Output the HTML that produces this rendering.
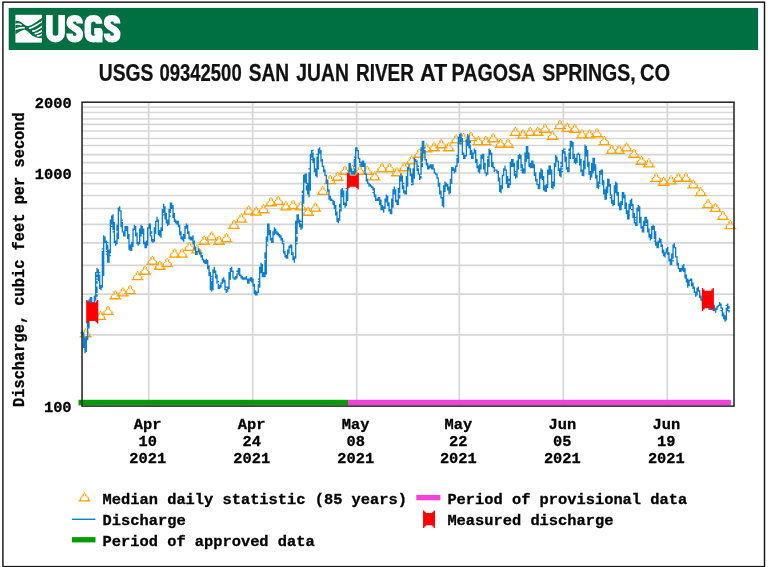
<!DOCTYPE html>
<html><head><meta charset="utf-8"><title>USGS 09342500 SAN JUAN RIVER AT PAGOSA SPRINGS, CO</title>
<style>html,body{margin:0;padding:0;background:#fff;}svg{display:block;}text{white-space:pre;}</style></head><body>
<svg width="768" height="567" viewBox="0 0 768 567">
<defs><filter id="soft" x="0" y="0" width="100%" height="100%" filterUnits="userSpaceOnUse" color-interpolation-filters="sRGB"><feGaussianBlur stdDeviation="0.45"/></filter></defs>
<g filter="url(#soft)">
<rect x="-5" y="-5" width="778" height="577" fill="#fff"/>
<rect x="2.9" y="2.15" width="761.6" height="564.45" fill="none" stroke="#151515" stroke-width="1.45"/>
<rect x="8.7" y="7.9" width="749.4" height="42.1" fill="#006f41"/>
<g id="logo">
<rect x="15.4" y="14.8" width="26.5" height="27.8" fill="#fff"/>
<clipPath id="ic"><rect x="15.4" y="14.8" width="26.5" height="27.8"/></clipPath>
<g clip-path="url(#ic)">
<path d="M 15.17,21.12 C 17.12,20.34 19.47,21.12 21.81,22.69 C 23.77,24.05 25.33,25.62 27.28,26.01 C 30.41,26.20 34.31,23.08 42.12,17.80 L 42.12,38.31 C 37.44,38.12 33.53,36.75 30.80,34.41 C 28.84,32.45 27.28,30.50 25.33,29.91 C 22.98,29.33 19.08,31.67 15.17,34.60 Z" fill="#006f41"/>
<path d="M 15.17,24.45 C 17.12,23.78 19.08,23.86 21.03,24.72" fill="none" stroke="#fff" stroke-width="1.6" stroke-linecap="round"/>
<path d="M 15.17,29.21 C 17.91,28.23 21.03,27.22 24.08,27.77" fill="none" stroke="#fff" stroke-width="1.6" stroke-linecap="round"/>
<path d="M 29.43,28.23 C 32.75,27.96 36.66,24.64 42.12,21.63" fill="none" stroke="#fff" stroke-width="1.6" stroke-linecap="round"/>
<path d="M 32.75,31.12 C 35.88,31.12 39.00,28.55 42.12,26.32" fill="none" stroke="#fff" stroke-width="1.6" stroke-linecap="round"/>
<path d="M 35.29,33.62 C 37.44,33.82 39.78,32.06 42.12,30.62" fill="none" stroke="#fff" stroke-width="1.6" stroke-linecap="round"/>
<path d="M 37.44,35.81 C 39.00,36.16 40.56,35.38 42.12,34.33" fill="none" stroke="#fff" stroke-width="1.6" stroke-linecap="round"/>
</g>
</g>
<g fill="none" stroke="#fff" stroke-width="6.6" stroke-linecap="butt" stroke-linejoin="round">
<path d="M49.4,14.9 V33.3 a6.1,5.8 0 0 0 12.2,0 V14.9"/>
<path d="M79.7,23.6 C79.7,19.6 77.8,18.2 74.7,18.2 C71.4,18.2 69.7,19.8 69.7,22.6 C69.7,25.8 72,26.9 74.7,28.2 C77.9,29.7 79.8,31 79.8,34.2 C79.8,37.6 77.9,39.1 74.7,39.1 C71.2,39.1 69.6,37.4 69.6,33.4"/>
<path d="M99.1,23.8 C99.1,19.8 96.9,18.2 93.6,18.2 C89.8,18.2 87.8,20.3 87.8,24.8 V32.5 C87.8,37 89.8,39.1 93.4,39.1 C96.8,39.1 99.2,37.6 99.2,34 V31.2 H94.2"/>
<path d="M99.2,31 V42.4"/>
<path d="M117.1,23.6 C117.1,19.6 115.2,18.2 112.1,18.2 C108.8,18.2 107.1,19.8 107.1,22.6 C107.1,25.8 109.4,26.9 112.1,28.2 C115.3,29.7 117.2,31 117.2,34.2 C117.2,37.6 115.3,39.1 112.1,39.1 C108.6,39.1 107,37.4 107,33.4"/>
</g>
<text transform="translate(98.74,80.5) scale(0.8372,1)" style='font-family:"Liberation Sans",sans-serif;font-weight:bold;font-size:23.0px' fill="#111" stroke="#111" stroke-width="0.25">USGS</text>
<text transform="translate(159.55,80.5) scale(0.8025,1)" style='font-family:"Liberation Sans",sans-serif;font-weight:bold;font-size:23.0px' fill="#111" stroke="#111" stroke-width="0.25">09342500</text>
<text transform="translate(248.72,80.5) scale(0.8314,1)" style='font-family:"Liberation Sans",sans-serif;font-weight:bold;font-size:23.0px' fill="#111" stroke="#111" stroke-width="0.25">SAN</text>
<text transform="translate(296.31,80.5) scale(0.8399,1)" style='font-family:"Liberation Sans",sans-serif;font-weight:bold;font-size:23.0px' fill="#111" stroke="#111" stroke-width="0.25">JUAN</text>
<text transform="translate(355.96,80.5) scale(0.8261,1)" style='font-family:"Liberation Sans",sans-serif;font-weight:bold;font-size:23.0px' fill="#111" stroke="#111" stroke-width="0.25">RIVER</text>
<text transform="translate(419.97,80.5) scale(0.9377,1)" style='font-family:"Liberation Sans",sans-serif;font-weight:bold;font-size:23.0px' fill="#111" stroke="#111" stroke-width="0.25">AT</text>
<text transform="translate(451.62,80.5) scale(0.8545,1)" style='font-family:"Liberation Sans",sans-serif;font-weight:bold;font-size:23.0px' fill="#111" stroke="#111" stroke-width="0.25">PAGOSA</text>
<text transform="translate(542.31,80.5) scale(0.8500,1)" style='font-family:"Liberation Sans",sans-serif;font-weight:bold;font-size:23.0px' fill="#111" stroke="#111" stroke-width="0.25">SPRINGS,</text>
<text transform="translate(640.00,80.5) scale(0.8744,1)" style='font-family:"Liberation Sans",sans-serif;font-weight:bold;font-size:23.0px' fill="#111" stroke="#111" stroke-width="0.25">CO</text>
<g id="grid" stroke-width="1.7" fill="none" stroke="#d6d6d6">
<line x1="82.0" x2="734.0" y1="107.20" y2="107.20"/>
<line x1="82.0" x2="734.0" y1="112.50" y2="112.50"/>
<line x1="82.0" x2="734.0" y1="119.00" y2="119.00"/>
<line x1="82.0" x2="734.0" y1="124.40" y2="124.40"/>
<line x1="82.0" x2="734.0" y1="131.00" y2="131.00"/>
<line x1="82.0" x2="734.0" y1="138.50" y2="138.50"/>
<line x1="82.0" x2="734.0" y1="145.50" y2="145.50"/>
<line x1="82.0" x2="734.0" y1="154.60" y2="154.60"/>
<line x1="82.0" x2="734.0" y1="162.70" y2="162.70"/>
<line x1="82.0" x2="734.0" y1="173.00" y2="173.00"/>
<line x1="82.0" x2="734.0" y1="183.70" y2="183.70"/>
<line x1="82.0" x2="734.0" y1="195.50" y2="195.50"/>
<line x1="82.0" x2="734.0" y1="208.50" y2="208.50"/>
<line x1="82.0" x2="734.0" y1="224.30" y2="224.30"/>
<line x1="82.0" x2="734.0" y1="242.80" y2="242.80"/>
<line x1="82.0" x2="734.0" y1="265.30" y2="265.30"/>
<line x1="82.0" x2="734.0" y1="294.20" y2="294.20"/>
<line x1="82.0" x2="734.0" y1="334.80" y2="334.80"/>
<line x1="148.67" x2="148.67" y1="102.0" y2="406.0"/>
<line x1="252.67" x2="252.67" y1="102.0" y2="406.0"/>
<line x1="356.67" x2="356.67" y1="102.0" y2="406.0"/>
<line x1="459.33" x2="459.33" y1="102.0" y2="406.0"/>
<line x1="563.33" x2="563.33" y1="102.0" y2="406.0"/>
<line x1="667.33" x2="667.33" y1="102.0" y2="406.0"/>
</g>
<defs><path id="t" d="M-0.667,-9.188h1.333v1.312h-1.333zM-2.000,-7.875h1.333v1.312h-1.333zM0.667,-7.875h1.333v1.312h-1.333zM-2.000,-6.562h1.333v1.312h-1.333zM0.667,-6.562h1.333v1.312h-1.333zM-3.333,-5.250h1.333v1.312h-1.333zM2.000,-5.250h1.333v1.312h-1.333zM-4.667,-3.938h1.333v1.312h-1.333zM3.333,-3.938h1.333v1.312h-1.333zM-4.667,-2.625h1.333v1.312h-1.333zM3.333,-2.625h1.333v1.312h-1.333zM-6.000,-1.312h12.000v1.312h-12.000z" fill="#ffa200"/></defs>
<g id="tri">
<use href="#t" x="85.70" y="337.40"/>
<use href="#t" x="93.11" y="320.30"/>
<use href="#t" x="100.52" y="320.10"/>
<use href="#t" x="107.93" y="315.10"/>
<use href="#t" x="115.34" y="299.40"/>
<use href="#t" x="122.75" y="296.60"/>
<use href="#t" x="130.16" y="294.20"/>
<use href="#t" x="137.57" y="280.30"/>
<use href="#t" x="144.98" y="274.90"/>
<use href="#t" x="152.39" y="264.90"/>
<use href="#t" x="159.80" y="269.90"/>
<use href="#t" x="167.20" y="267.20"/>
<use href="#t" x="174.61" y="257.70"/>
<use href="#t" x="182.02" y="257.70"/>
<use href="#t" x="189.43" y="251.10"/>
<use href="#t" x="196.84" y="253.60"/>
<use href="#t" x="204.25" y="244.90"/>
<use href="#t" x="211.66" y="240.60"/>
<use href="#t" x="219.07" y="244.90"/>
<use href="#t" x="226.48" y="242.20"/>
<use href="#t" x="233.89" y="229.10"/>
<use href="#t" x="241.30" y="222.70"/>
<use href="#t" x="248.70" y="214.70"/>
<use href="#t" x="256.11" y="215.80"/>
<use href="#t" x="263.52" y="213.40"/>
<use href="#t" x="270.93" y="206.40"/>
<use href="#t" x="278.34" y="205.10"/>
<use href="#t" x="285.75" y="210.60"/>
<use href="#t" x="293.16" y="209.20"/>
<use href="#t" x="300.57" y="210.60"/>
<use href="#t" x="307.98" y="215.90"/>
<use href="#t" x="315.39" y="211.70"/>
<use href="#t" x="322.80" y="195.10"/>
<use href="#t" x="330.20" y="184.20"/>
<use href="#t" x="337.61" y="180.90"/>
<use href="#t" x="345.02" y="174.90"/>
<use href="#t" x="352.43" y="173.90"/>
<use href="#t" x="359.84" y="175.10"/>
<use href="#t" x="367.25" y="175.10"/>
<use href="#t" x="374.66" y="180.60"/>
<use href="#t" x="382.07" y="172.20"/>
<use href="#t" x="389.48" y="172.20"/>
<use href="#t" x="396.89" y="176.40"/>
<use href="#t" x="404.30" y="171.40"/>
<use href="#t" x="411.70" y="164.60"/>
<use href="#t" x="419.11" y="157.90"/>
<use href="#t" x="426.52" y="152.60"/>
<use href="#t" x="433.93" y="151.40"/>
<use href="#t" x="441.34" y="148.40"/>
<use href="#t" x="448.75" y="151.40"/>
<use href="#t" x="456.16" y="143.60"/>
<use href="#t" x="463.57" y="142.10"/>
<use href="#t" x="470.98" y="141.20"/>
<use href="#t" x="478.39" y="145.20"/>
<use href="#t" x="485.80" y="145.20"/>
<use href="#t" x="493.20" y="142.40"/>
<use href="#t" x="500.61" y="147.90"/>
<use href="#t" x="508.02" y="147.90"/>
<use href="#t" x="515.43" y="136.10"/>
<use href="#t" x="522.84" y="138.70"/>
<use href="#t" x="530.25" y="136.10"/>
<use href="#t" x="537.66" y="135.90"/>
<use href="#t" x="545.07" y="132.90"/>
<use href="#t" x="552.48" y="139.90"/>
<use href="#t" x="559.89" y="129.20"/>
<use href="#t" x="567.30" y="132.00"/>
<use href="#t" x="574.70" y="133.10"/>
<use href="#t" x="582.11" y="138.60"/>
<use href="#t" x="589.52" y="138.60"/>
<use href="#t" x="596.93" y="137.40"/>
<use href="#t" x="604.34" y="145.20"/>
<use href="#t" x="611.75" y="154.10"/>
<use href="#t" x="619.16" y="154.10"/>
<use href="#t" x="626.57" y="151.60"/>
<use href="#t" x="633.98" y="157.90"/>
<use href="#t" x="641.39" y="164.90"/>
<use href="#t" x="648.80" y="167.50"/>
<use href="#t" x="656.20" y="182.00"/>
<use href="#t" x="663.61" y="185.90"/>
<use href="#t" x="671.02" y="184.50"/>
<use href="#t" x="678.43" y="181.90"/>
<use href="#t" x="685.84" y="181.90"/>
<use href="#t" x="693.25" y="188.60"/>
<use href="#t" x="700.66" y="196.30"/>
<use href="#t" x="708.07" y="208.30"/>
<use href="#t" x="715.48" y="212.10"/>
<use href="#t" x="722.89" y="220.10"/>
<use href="#t" x="730.30" y="229.20"/>
</g>
<rect x="78.5" y="399.8" width="269.50" height="5.6" fill="#009c00"/>
<rect x="348.0" y="399.8" width="382.90" height="5.6" fill="#f340dc"/>
<path d="M80.35,332.31h1.333v1.31h-1.333zM81.68,331.00h1.333v3.94h-1.333zM83.02,332.31h1.333v15.75h-1.333zM84.35,337.56h1.333v15.75h-1.333zM85.68,336.25h1.333v15.75h-1.333zM87.02,315.25h1.333v24.94h-1.333zM88.35,299.50h1.333v28.88h-1.333zM89.68,296.88h1.333v7.88h-1.333zM91.02,296.88h1.333v7.88h-1.333zM92.35,302.12h1.333v3.94h-1.333zM93.68,295.56h1.333v9.19h-1.333zM95.02,271.94h1.333v28.88h-1.333zM96.35,268.00h1.333v5.25h-1.333zM96.35,274.56h1.333v2.62h-1.333zM96.35,278.50h1.333v1.31h-1.333zM96.35,281.12h1.333v2.62h-1.333zM96.35,286.38h1.333v6.56h-1.333zM96.35,294.25h1.333v2.62h-1.333zM97.68,269.31h1.333v11.81h-1.333zM99.02,271.94h1.333v1.31h-1.333zM99.02,274.56h1.333v14.44h-1.333zM100.35,285.06h1.333v5.25h-1.333zM101.68,248.31h1.333v1.31h-1.333zM101.68,250.94h1.333v36.75h-1.333zM103.02,235.19h1.333v40.69h-1.333zM104.35,236.50h1.333v6.56h-1.333zM105.68,240.44h1.333v9.19h-1.333zM105.68,250.94h1.333v1.31h-1.333zM105.68,253.56h1.333v1.31h-1.333zM107.02,241.75h1.333v1.31h-1.333zM107.02,244.38h1.333v18.38h-1.333zM108.35,249.62h1.333v13.12h-1.333zM109.68,219.44h1.333v34.12h-1.333zM109.68,254.88h1.333v1.31h-1.333zM111.02,215.50h1.333v9.19h-1.333zM111.02,226.00h1.333v1.31h-1.333zM112.35,214.19h1.333v15.75h-1.333zM112.35,231.25h1.333v1.31h-1.333zM113.68,222.06h1.333v21.00h-1.333zM115.02,240.44h1.333v5.25h-1.333zM116.35,224.69h1.333v6.56h-1.333zM116.35,232.56h1.333v11.81h-1.333zM117.68,207.62h1.333v31.50h-1.333zM119.02,206.31h1.333v5.25h-1.333zM120.35,210.25h1.333v17.06h-1.333zM121.68,219.44h1.333v1.31h-1.333zM121.68,222.06h1.333v10.50h-1.333zM123.02,231.25h1.333v5.25h-1.333zM124.35,226.00h1.333v10.50h-1.333zM125.68,226.00h1.333v5.25h-1.333zM127.02,226.00h1.333v13.12h-1.333zM128.35,233.88h1.333v15.75h-1.333zM129.68,244.38h1.333v6.56h-1.333zM131.02,241.75h1.333v9.19h-1.333zM132.35,228.62h1.333v18.38h-1.333zM133.68,224.69h1.333v5.25h-1.333zM135.02,226.00h1.333v10.50h-1.333zM136.35,232.56h1.333v11.81h-1.333zM137.68,241.75h1.333v3.94h-1.333zM139.02,228.62h1.333v15.75h-1.333zM140.35,224.69h1.333v11.81h-1.333zM141.68,226.00h1.333v7.88h-1.333zM143.02,228.62h1.333v15.75h-1.333zM144.35,241.75h1.333v6.56h-1.333zM145.68,240.44h1.333v7.88h-1.333zM147.02,227.31h1.333v18.38h-1.333zM148.35,223.38h1.333v5.25h-1.333zM149.68,223.38h1.333v13.12h-1.333zM151.02,231.25h1.333v2.62h-1.333zM151.02,235.19h1.333v6.56h-1.333zM152.35,239.12h1.333v3.94h-1.333zM153.68,227.31h1.333v14.44h-1.333zM155.02,220.75h1.333v13.12h-1.333zM156.35,216.81h1.333v5.25h-1.333zM157.68,219.44h1.333v15.75h-1.333zM159.02,229.94h1.333v6.56h-1.333zM160.35,227.31h1.333v10.50h-1.333zM161.68,208.94h1.333v22.31h-1.333zM163.02,203.69h1.333v9.19h-1.333zM163.02,214.19h1.333v1.31h-1.333zM164.35,206.31h1.333v13.12h-1.333zM165.68,212.88h1.333v10.50h-1.333zM167.02,219.44h1.333v6.56h-1.333zM168.35,208.94h1.333v15.75h-1.333zM169.68,202.38h1.333v10.50h-1.333zM169.68,215.50h1.333v1.31h-1.333zM171.02,202.38h1.333v6.56h-1.333zM172.35,205.00h1.333v13.12h-1.333zM173.68,212.88h1.333v9.19h-1.333zM175.02,219.44h1.333v3.94h-1.333zM176.35,220.75h1.333v3.94h-1.333zM177.68,220.75h1.333v6.56h-1.333zM179.02,224.69h1.333v10.50h-1.333zM180.35,231.25h1.333v7.88h-1.333zM181.68,236.50h1.333v3.94h-1.333zM183.02,233.88h1.333v7.88h-1.333zM184.35,226.00h1.333v13.12h-1.333zM185.68,223.38h1.333v5.25h-1.333zM187.02,224.69h1.333v9.19h-1.333zM188.35,231.25h1.333v7.88h-1.333zM189.68,236.50h1.333v3.94h-1.333zM191.02,236.50h1.333v3.94h-1.333zM192.35,235.19h1.333v9.19h-1.333zM193.68,240.44h1.333v9.19h-1.333zM195.02,247.00h1.333v7.88h-1.333zM196.35,250.94h1.333v3.94h-1.333zM197.68,248.31h1.333v3.94h-1.333zM199.02,249.62h1.333v5.25h-1.333zM200.35,252.25h1.333v5.25h-1.333zM201.68,254.88h1.333v5.25h-1.333zM203.02,258.81h1.333v3.94h-1.333zM204.35,260.12h1.333v3.94h-1.333zM205.68,258.81h1.333v5.25h-1.333zM207.02,260.12h1.333v9.19h-1.333zM208.35,265.38h1.333v10.50h-1.333zM209.68,271.94h1.333v18.38h-1.333zM211.02,275.88h1.333v1.31h-1.333zM211.02,278.50h1.333v1.31h-1.333zM211.02,281.12h1.333v10.50h-1.333zM212.35,269.31h1.333v21.00h-1.333zM213.68,266.69h1.333v6.56h-1.333zM215.02,270.62h1.333v7.88h-1.333zM216.35,274.56h1.333v9.19h-1.333zM217.68,281.12h1.333v1.31h-1.333zM217.68,283.75h1.333v5.25h-1.333zM219.02,285.06h1.333v3.94h-1.333zM220.35,282.44h1.333v5.25h-1.333zM221.68,278.50h1.333v5.25h-1.333zM223.02,277.19h1.333v5.25h-1.333zM224.35,279.81h1.333v10.50h-1.333zM225.68,286.38h1.333v1.31h-1.333zM225.68,289.00h1.333v3.94h-1.333zM227.02,286.38h1.333v5.25h-1.333zM228.35,271.94h1.333v17.06h-1.333zM229.68,268.00h1.333v11.81h-1.333zM231.02,266.69h1.333v5.25h-1.333zM232.35,270.62h1.333v7.88h-1.333zM233.68,277.19h1.333v2.62h-1.333zM235.02,275.88h1.333v3.94h-1.333zM236.35,270.62h1.333v1.31h-1.333zM236.35,273.25h1.333v5.25h-1.333zM237.68,268.00h1.333v6.56h-1.333zM239.02,268.00h1.333v7.88h-1.333zM240.35,274.56h1.333v3.94h-1.333zM241.68,275.88h1.333v3.94h-1.333zM243.02,277.19h1.333v2.62h-1.333zM244.35,277.19h1.333v2.62h-1.333zM245.68,275.88h1.333v3.94h-1.333zM247.02,278.50h1.333v5.25h-1.333zM248.35,278.50h1.333v5.25h-1.333zM249.68,277.19h1.333v3.94h-1.333zM251.02,277.19h1.333v5.25h-1.333zM252.35,278.50h1.333v7.88h-1.333zM253.68,283.75h1.333v10.50h-1.333zM255.02,290.31h1.333v5.25h-1.333zM256.35,291.62h1.333v3.94h-1.333zM257.68,278.50h1.333v1.31h-1.333zM257.68,281.12h1.333v1.31h-1.333zM257.68,283.75h1.333v9.19h-1.333zM259.02,266.69h1.333v21.00h-1.333zM260.35,262.75h1.333v10.50h-1.333zM261.68,264.06h1.333v13.12h-1.333zM263.02,271.94h1.333v5.25h-1.333zM264.35,252.25h1.333v6.56h-1.333zM264.35,260.12h1.333v17.06h-1.333zM265.68,236.50h1.333v38.06h-1.333zM267.02,223.38h1.333v18.38h-1.333zM267.02,244.38h1.333v1.31h-1.333zM268.35,223.38h1.333v11.81h-1.333zM269.68,229.94h1.333v10.50h-1.333zM271.02,237.81h1.333v5.25h-1.333zM272.35,231.25h1.333v11.81h-1.333zM273.68,227.31h1.333v7.88h-1.333zM275.02,228.62h1.333v5.25h-1.333zM276.35,231.25h1.333v3.94h-1.333zM277.68,232.56h1.333v3.94h-1.333zM279.02,233.88h1.333v3.94h-1.333zM280.35,235.19h1.333v5.25h-1.333zM281.68,237.81h1.333v6.56h-1.333zM283.02,240.44h1.333v1.31h-1.333zM283.02,243.06h1.333v10.50h-1.333zM284.35,250.94h1.333v6.56h-1.333zM285.68,254.88h1.333v3.94h-1.333zM287.02,249.62h1.333v9.19h-1.333zM288.35,245.69h1.333v7.88h-1.333zM289.68,244.38h1.333v3.94h-1.333zM291.02,244.38h1.333v10.50h-1.333zM292.35,252.25h1.333v7.88h-1.333zM293.68,256.19h1.333v6.56h-1.333zM295.02,220.75h1.333v38.06h-1.333zM296.35,214.19h1.333v19.69h-1.333zM296.35,236.50h1.333v5.25h-1.333zM296.35,243.06h1.333v1.31h-1.333zM297.68,214.19h1.333v9.19h-1.333zM299.02,219.44h1.333v7.88h-1.333zM300.35,220.75h1.333v1.31h-1.333zM300.35,223.38h1.333v6.56h-1.333zM301.68,190.56h1.333v2.62h-1.333zM301.68,194.50h1.333v34.12h-1.333zM303.02,174.81h1.333v28.88h-1.333zM304.35,173.50h1.333v9.19h-1.333zM305.68,173.50h1.333v10.50h-1.333zM305.68,185.31h1.333v5.25h-1.333zM307.02,182.69h1.333v11.81h-1.333zM308.35,168.25h1.333v1.31h-1.333zM308.35,172.19h1.333v24.94h-1.333zM309.68,153.81h1.333v36.75h-1.333zM311.02,149.88h1.333v7.88h-1.333zM311.02,159.06h1.333v1.31h-1.333zM312.35,149.88h1.333v1.31h-1.333zM312.35,152.50h1.333v10.50h-1.333zM313.68,157.75h1.333v14.44h-1.333zM315.02,168.25h1.333v7.88h-1.333zM316.35,153.81h1.333v1.31h-1.333zM316.35,156.44h1.333v21.00h-1.333zM317.68,148.56h1.333v21.00h-1.333zM319.02,147.25h1.333v6.56h-1.333zM320.35,149.88h1.333v11.81h-1.333zM321.68,159.06h1.333v7.88h-1.333zM323.02,165.62h1.333v6.56h-1.333zM324.35,169.56h1.333v6.56h-1.333zM325.68,174.81h1.333v9.19h-1.333zM327.02,180.06h1.333v11.81h-1.333zM328.35,189.25h1.333v10.50h-1.333zM329.68,195.81h1.333v5.25h-1.333zM331.02,198.44h1.333v2.62h-1.333zM332.35,199.75h1.333v5.25h-1.333zM333.68,201.06h1.333v7.88h-1.333zM335.02,205.00h1.333v10.50h-1.333zM336.35,211.56h1.333v10.50h-1.333zM337.68,218.12h1.333v5.25h-1.333zM339.02,203.69h1.333v3.94h-1.333zM339.02,208.94h1.333v11.81h-1.333zM340.35,189.25h1.333v22.31h-1.333zM341.68,187.94h1.333v9.19h-1.333zM343.02,190.56h1.333v14.44h-1.333zM344.35,202.38h1.333v5.25h-1.333zM345.68,187.94h1.333v1.31h-1.333zM345.68,190.56h1.333v15.75h-1.333zM347.02,173.50h1.333v27.56h-1.333zM348.35,163.00h1.333v17.06h-1.333zM349.68,163.00h1.333v9.19h-1.333zM351.02,168.25h1.333v6.56h-1.333zM352.35,170.88h1.333v3.94h-1.333zM353.68,156.44h1.333v1.31h-1.333zM353.68,159.06h1.333v7.88h-1.333zM353.68,168.25h1.333v6.56h-1.333zM355.02,147.25h1.333v26.25h-1.333zM356.35,147.25h1.333v3.94h-1.333zM357.68,149.88h1.333v9.19h-1.333zM359.02,157.75h1.333v5.25h-1.333zM359.02,164.31h1.333v1.31h-1.333zM360.35,161.69h1.333v5.25h-1.333zM361.68,160.38h1.333v6.56h-1.333zM363.02,160.38h1.333v6.56h-1.333zM364.35,163.00h1.333v11.81h-1.333zM365.68,173.50h1.333v7.88h-1.333zM367.02,178.75h1.333v5.25h-1.333zM368.35,182.69h1.333v3.94h-1.333zM369.68,184.00h1.333v2.62h-1.333zM371.02,185.31h1.333v2.62h-1.333zM372.35,186.62h1.333v3.94h-1.333zM372.35,191.88h1.333v1.31h-1.333zM373.68,187.94h1.333v9.19h-1.333zM375.02,194.50h1.333v6.56h-1.333zM376.35,198.44h1.333v2.62h-1.333zM377.68,197.12h1.333v3.94h-1.333zM379.02,197.12h1.333v7.88h-1.333zM380.35,199.75h1.333v10.50h-1.333zM381.68,205.00h1.333v5.25h-1.333zM383.02,206.31h1.333v6.56h-1.333zM384.35,198.44h1.333v10.50h-1.333zM385.68,194.50h1.333v7.88h-1.333zM387.02,195.81h1.333v10.50h-1.333zM388.35,202.38h1.333v9.19h-1.333zM389.68,208.94h1.333v5.25h-1.333zM391.02,198.44h1.333v15.75h-1.333zM392.35,189.25h1.333v18.38h-1.333zM393.68,186.62h1.333v7.88h-1.333zM395.02,189.25h1.333v13.12h-1.333zM396.35,199.75h1.333v5.25h-1.333zM397.68,187.94h1.333v17.06h-1.333zM399.02,176.12h1.333v17.06h-1.333zM399.02,194.50h1.333v3.94h-1.333zM400.35,173.50h1.333v7.88h-1.333zM401.68,176.12h1.333v13.12h-1.333zM403.02,182.69h1.333v1.31h-1.333zM403.02,185.31h1.333v7.88h-1.333zM404.35,190.56h1.333v3.94h-1.333zM405.68,176.12h1.333v18.38h-1.333zM407.02,166.94h1.333v19.69h-1.333zM408.35,164.31h1.333v5.25h-1.333zM409.68,168.25h1.333v7.88h-1.333zM411.02,173.50h1.333v9.19h-1.333zM411.02,184.00h1.333v1.31h-1.333zM412.35,168.25h1.333v17.06h-1.333zM413.68,157.75h1.333v21.00h-1.333zM415.02,159.06h1.333v2.62h-1.333zM416.35,160.38h1.333v10.50h-1.333zM417.68,165.62h1.333v1.31h-1.333zM417.68,168.25h1.333v6.56h-1.333zM419.02,173.50h1.333v6.56h-1.333zM420.35,147.25h1.333v3.94h-1.333zM420.35,152.50h1.333v22.31h-1.333zM420.35,176.12h1.333v2.62h-1.333zM421.68,140.69h1.333v21.00h-1.333zM421.68,163.00h1.333v3.94h-1.333zM423.02,140.69h1.333v13.12h-1.333zM424.35,147.25h1.333v1.31h-1.333zM424.35,149.88h1.333v10.50h-1.333zM425.68,159.06h1.333v6.56h-1.333zM427.02,163.00h1.333v6.56h-1.333zM428.35,165.62h1.333v3.94h-1.333zM429.68,164.31h1.333v3.94h-1.333zM431.02,164.31h1.333v5.25h-1.333zM432.35,164.31h1.333v5.25h-1.333zM433.68,168.25h1.333v5.25h-1.333zM435.02,172.19h1.333v2.62h-1.333zM436.35,173.50h1.333v5.25h-1.333zM437.68,177.44h1.333v9.19h-1.333zM439.02,182.69h1.333v11.81h-1.333zM440.35,190.56h1.333v7.88h-1.333zM441.68,197.12h1.333v9.19h-1.333zM443.02,185.31h1.333v22.31h-1.333zM444.35,181.38h1.333v10.50h-1.333zM445.68,182.69h1.333v3.94h-1.333zM447.02,184.00h1.333v6.56h-1.333zM448.35,186.62h1.333v7.88h-1.333zM449.68,178.75h1.333v14.44h-1.333zM451.02,166.94h1.333v17.06h-1.333zM452.35,166.94h1.333v3.94h-1.333zM453.68,168.25h1.333v5.25h-1.333zM455.02,165.62h1.333v6.56h-1.333zM456.35,155.12h1.333v1.31h-1.333zM456.35,157.75h1.333v9.19h-1.333zM457.68,136.75h1.333v26.25h-1.333zM459.02,134.12h1.333v10.50h-1.333zM460.35,132.81h1.333v9.19h-1.333zM460.35,143.31h1.333v1.31h-1.333zM461.68,138.06h1.333v17.06h-1.333zM463.02,152.50h1.333v6.56h-1.333zM464.35,155.12h1.333v3.94h-1.333zM465.68,139.38h1.333v17.06h-1.333zM467.02,134.12h1.333v11.81h-1.333zM468.35,135.44h1.333v13.12h-1.333zM469.68,140.69h1.333v2.62h-1.333zM469.68,144.62h1.333v10.50h-1.333zM471.02,149.88h1.333v9.19h-1.333zM472.35,152.50h1.333v6.56h-1.333zM473.68,148.56h1.333v5.25h-1.333zM475.02,149.88h1.333v13.12h-1.333zM476.35,159.06h1.333v9.19h-1.333zM477.68,165.62h1.333v6.56h-1.333zM479.02,164.31h1.333v9.19h-1.333zM480.35,155.12h1.333v14.44h-1.333zM481.68,153.81h1.333v5.25h-1.333zM483.02,153.81h1.333v15.75h-1.333zM484.35,163.00h1.333v10.50h-1.333zM485.68,172.19h1.333v3.94h-1.333zM487.02,156.44h1.333v1.31h-1.333zM487.02,159.06h1.333v15.75h-1.333zM488.35,148.56h1.333v18.38h-1.333zM489.68,149.88h1.333v5.25h-1.333zM491.02,152.50h1.333v14.44h-1.333zM492.35,161.69h1.333v6.56h-1.333zM493.68,166.94h1.333v5.25h-1.333zM495.02,169.56h1.333v1.31h-1.333zM496.35,169.56h1.333v3.94h-1.333zM497.68,170.88h1.333v10.50h-1.333zM499.02,177.44h1.333v14.44h-1.333zM500.35,185.31h1.333v7.88h-1.333zM501.68,174.81h1.333v14.44h-1.333zM503.02,168.25h1.333v7.88h-1.333zM504.35,165.62h1.333v5.25h-1.333zM505.68,169.56h1.333v14.44h-1.333zM507.02,176.12h1.333v11.81h-1.333zM508.35,178.75h1.333v2.62h-1.333zM508.35,182.69h1.333v5.25h-1.333zM509.68,161.69h1.333v23.62h-1.333zM511.02,159.06h1.333v7.88h-1.333zM512.35,159.06h1.333v7.88h-1.333zM513.68,163.00h1.333v13.12h-1.333zM515.02,170.88h1.333v1.31h-1.333zM515.02,173.50h1.333v5.25h-1.333zM516.35,160.38h1.333v17.06h-1.333zM517.68,155.12h1.333v14.44h-1.333zM519.02,153.81h1.333v5.25h-1.333zM520.35,155.12h1.333v13.12h-1.333zM520.35,169.56h1.333v1.31h-1.333zM521.68,164.31h1.333v9.19h-1.333zM523.02,168.25h1.333v5.25h-1.333zM524.35,152.50h1.333v21.00h-1.333zM525.68,145.94h1.333v15.75h-1.333zM527.02,145.94h1.333v13.12h-1.333zM528.35,152.50h1.333v14.44h-1.333zM529.68,163.00h1.333v5.25h-1.333zM531.02,160.38h1.333v7.88h-1.333zM532.35,160.38h1.333v7.88h-1.333zM533.68,164.31h1.333v11.81h-1.333zM535.02,172.19h1.333v9.19h-1.333zM536.35,178.75h1.333v6.56h-1.333zM537.68,184.00h1.333v5.25h-1.333zM539.02,172.19h1.333v17.06h-1.333zM540.35,168.25h1.333v10.50h-1.333zM541.68,169.56h1.333v10.50h-1.333zM543.02,176.12h1.333v14.44h-1.333zM544.35,185.31h1.333v6.56h-1.333zM545.68,184.00h1.333v7.88h-1.333zM547.02,169.56h1.333v18.38h-1.333zM548.35,165.62h1.333v9.19h-1.333zM549.68,165.62h1.333v9.19h-1.333zM551.02,169.56h1.333v18.38h-1.333zM552.35,181.38h1.333v7.88h-1.333zM553.68,163.00h1.333v23.62h-1.333zM555.02,155.12h1.333v11.81h-1.333zM556.35,156.44h1.333v5.25h-1.333zM557.68,160.38h1.333v10.50h-1.333zM559.02,168.25h1.333v7.88h-1.333zM560.35,161.69h1.333v2.62h-1.333zM560.35,165.62h1.333v11.81h-1.333zM561.68,149.88h1.333v17.06h-1.333zM561.68,168.25h1.333v1.31h-1.333zM561.68,170.88h1.333v1.31h-1.333zM563.02,148.56h1.333v5.25h-1.333zM564.35,148.56h1.333v1.31h-1.333zM564.35,151.19h1.333v10.50h-1.333zM565.68,156.44h1.333v13.12h-1.333zM567.02,166.94h1.333v5.25h-1.333zM568.35,148.56h1.333v2.62h-1.333zM568.35,152.50h1.333v19.69h-1.333zM569.68,140.69h1.333v18.38h-1.333zM571.02,140.69h1.333v6.56h-1.333zM572.35,142.00h1.333v17.06h-1.333zM573.68,153.81h1.333v9.19h-1.333zM575.02,157.75h1.333v6.56h-1.333zM576.35,153.81h1.333v9.19h-1.333zM577.68,152.50h1.333v2.62h-1.333zM579.02,153.81h1.333v11.81h-1.333zM580.35,159.06h1.333v13.12h-1.333zM581.68,169.56h1.333v6.56h-1.333zM583.02,160.38h1.333v15.75h-1.333zM584.35,144.62h1.333v24.94h-1.333zM585.68,145.94h1.333v10.50h-1.333zM587.02,149.88h1.333v17.06h-1.333zM588.35,161.69h1.333v13.12h-1.333zM589.68,170.88h1.333v9.19h-1.333zM591.02,163.00h1.333v14.44h-1.333zM592.35,157.75h1.333v15.75h-1.333zM593.68,157.75h1.333v13.12h-1.333zM595.02,164.31h1.333v14.44h-1.333zM596.35,174.81h1.333v13.12h-1.333zM597.68,181.38h1.333v7.88h-1.333zM599.02,170.88h1.333v13.12h-1.333zM599.02,185.31h1.333v1.31h-1.333zM600.35,169.56h1.333v5.25h-1.333zM601.68,169.56h1.333v15.75h-1.333zM603.02,180.06h1.333v14.44h-1.333zM604.35,189.25h1.333v10.50h-1.333zM605.68,186.62h1.333v13.12h-1.333zM607.02,178.75h1.333v14.44h-1.333zM608.35,178.75h1.333v7.88h-1.333zM609.68,184.00h1.333v11.81h-1.333zM609.68,197.12h1.333v1.31h-1.333zM611.02,194.50h1.333v9.19h-1.333zM612.35,199.75h1.333v6.56h-1.333zM613.68,185.31h1.333v19.69h-1.333zM615.02,181.38h1.333v11.81h-1.333zM616.35,182.69h1.333v13.12h-1.333zM617.68,191.88h1.333v14.44h-1.333zM619.02,202.38h1.333v7.88h-1.333zM620.35,201.06h1.333v9.19h-1.333zM621.68,191.88h1.333v13.12h-1.333zM623.02,191.88h1.333v6.56h-1.333zM624.35,194.50h1.333v14.44h-1.333zM625.68,202.38h1.333v11.81h-1.333zM627.02,210.25h1.333v9.19h-1.333zM628.35,203.69h1.333v15.75h-1.333zM629.68,199.75h1.333v9.19h-1.333zM631.02,198.44h1.333v7.88h-1.333zM631.02,208.94h1.333v1.31h-1.333zM632.35,203.69h1.333v14.44h-1.333zM633.68,212.88h1.333v10.50h-1.333zM635.02,216.81h1.333v1.31h-1.333zM635.02,219.44h1.333v1.31h-1.333zM635.02,222.06h1.333v3.94h-1.333zM636.35,207.62h1.333v18.38h-1.333zM637.68,205.00h1.333v6.56h-1.333zM639.02,206.31h1.333v17.06h-1.333zM640.35,216.81h1.333v11.81h-1.333zM641.68,226.00h1.333v6.56h-1.333zM643.02,220.75h1.333v11.81h-1.333zM644.35,216.81h1.333v9.19h-1.333zM645.68,216.81h1.333v6.56h-1.333zM645.68,224.69h1.333v1.31h-1.333zM647.02,219.44h1.333v13.12h-1.333zM648.35,228.62h1.333v9.19h-1.333zM649.68,233.88h1.333v6.56h-1.333zM651.02,226.00h1.333v13.12h-1.333zM652.35,224.69h1.333v5.25h-1.333zM653.68,226.00h1.333v13.12h-1.333zM653.68,240.44h1.333v1.31h-1.333zM655.02,231.25h1.333v14.44h-1.333zM656.35,241.75h1.333v6.56h-1.333zM657.68,240.44h1.333v7.88h-1.333zM659.02,237.81h1.333v5.25h-1.333zM660.35,239.12h1.333v7.88h-1.333zM661.68,244.38h1.333v9.19h-1.333zM663.02,249.62h1.333v6.56h-1.333zM664.35,252.25h1.333v5.25h-1.333zM665.68,248.31h1.333v5.25h-1.333zM667.02,247.00h1.333v7.88h-1.333zM668.35,252.25h1.333v9.19h-1.333zM669.68,258.81h1.333v6.56h-1.333zM671.02,253.56h1.333v11.81h-1.333zM672.35,244.38h1.333v14.44h-1.333zM672.35,260.12h1.333v1.31h-1.333zM673.68,243.06h1.333v5.25h-1.333zM675.02,247.00h1.333v10.50h-1.333zM676.35,256.19h1.333v9.19h-1.333zM677.68,262.75h1.333v6.56h-1.333zM679.02,268.00h1.333v3.94h-1.333zM680.35,268.00h1.333v3.94h-1.333zM681.68,265.38h1.333v5.25h-1.333zM683.02,264.06h1.333v7.88h-1.333zM684.35,268.00h1.333v10.50h-1.333zM685.68,274.56h1.333v7.88h-1.333zM687.02,278.50h1.333v9.19h-1.333zM688.35,279.81h1.333v6.56h-1.333zM689.68,278.50h1.333v2.62h-1.333zM691.02,278.50h1.333v7.88h-1.333zM692.35,282.44h1.333v6.56h-1.333zM693.68,286.38h1.333v6.56h-1.333zM695.02,291.62h1.333v5.25h-1.333zM696.35,287.69h1.333v7.88h-1.333zM697.68,286.38h1.333v5.25h-1.333zM699.02,290.31h1.333v7.88h-1.333zM700.35,295.56h1.333v5.25h-1.333zM701.68,298.19h1.333v3.94h-1.333zM703.02,300.81h1.333v2.62h-1.333zM704.35,300.81h1.333v2.62h-1.333zM705.68,302.12h1.333v2.62h-1.333zM707.02,303.44h1.333v3.94h-1.333zM708.35,304.75h1.333v5.25h-1.333zM709.68,307.38h1.333v2.62h-1.333zM711.02,307.38h1.333v2.62h-1.333zM712.35,306.06h1.333v2.62h-1.333zM713.68,304.75h1.333v6.56h-1.333zM715.02,307.38h1.333v5.25h-1.333zM716.35,306.06h1.333v3.94h-1.333zM717.68,304.75h1.333v2.62h-1.333zM719.02,302.12h1.333v3.94h-1.333zM720.35,303.44h1.333v5.25h-1.333zM720.35,310.00h1.333v1.31h-1.333zM721.68,307.38h1.333v9.19h-1.333zM723.02,312.62h1.333v6.56h-1.333zM724.35,315.25h1.333v6.56h-1.333zM725.68,304.75h1.333v1.31h-1.333zM725.68,307.38h1.333v13.12h-1.333zM727.02,303.44h1.333v7.88h-1.333zM728.35,306.06h1.333v2.62h-1.333zM728.35,310.00h1.333v2.62h-1.333z" fill="#0d7fd0"/>
<path d="M86.20,302.52H98.30V320.98H86.20ZM86.20,299.90h1.34V301.21h-1.34ZM98.30,299.90h-1.34V301.21h1.34ZM86.20,301.21h2.69V302.52h-2.69ZM98.30,301.21h-2.69V302.52h2.69ZM86.20,320.98h2.69V322.29h-2.69ZM98.30,320.98h-2.69V322.29h2.69ZM86.20,322.29h1.34V323.60h-1.34ZM98.30,322.29h-1.34V323.60h1.34Z" fill="#ff0000"/>
<path d="M346.95,175.53H358.85V186.78H346.95ZM346.95,172.90h1.32V174.21h-1.32ZM358.85,172.90h-1.32V174.21h1.32ZM346.95,174.21h2.64V175.53h-2.64ZM358.85,174.21h-2.64V175.53h2.64ZM346.95,186.78h2.64V188.09h-2.64ZM358.85,186.78h-2.64V188.09h2.64ZM346.95,188.09h1.32V189.40h-1.32ZM358.85,188.09h-1.32V189.40h1.32Z" fill="#ff0000"/>
<path d="M701.85,290.73H713.90V308.27H701.85ZM701.85,288.10h1.34V289.41h-1.34ZM713.90,288.10h-1.34V289.41h1.34ZM701.85,289.41h2.68V290.73h-2.68ZM713.90,289.41h-2.68V290.73h2.68ZM701.85,308.27h2.68V309.59h-2.68ZM713.90,308.27h-2.68V309.59h2.68ZM701.85,309.59h1.34V310.90h-1.34ZM713.90,309.59h-1.34V310.90h1.34Z" fill="#ff0000"/>
<rect x="82.05" y="102.2" width="651.95" height="303.90" fill="none" stroke="#262626" stroke-width="1.55"/>
<text transform="translate(71.6,107.9) scale(0.989,1.0)" text-anchor="end" style='font-family:"Liberation Mono",monospace;font-weight:bold;font-size:15.55px' fill="#000" stroke="#000" stroke-width="0.3" >2000</text>
<text transform="translate(71.6,179.0) scale(0.989,1.0)" text-anchor="end" style='font-family:"Liberation Mono",monospace;font-weight:bold;font-size:15.55px' fill="#000" stroke="#000" stroke-width="0.3" >1000</text>
<text transform="translate(71.6,412.0) scale(0.989,1.0)" text-anchor="end" style='font-family:"Liberation Mono",monospace;font-weight:bold;font-size:15.55px' fill="#000" stroke="#000" stroke-width="0.3" >100</text>
<text transform="translate(23.7,407.0) rotate(-90) scale(0.9878,1.07)" x="0" y="0" style='font-family:"Liberation Mono",monospace;font-weight:bold;font-size:15.55px' fill="#000" stroke="#000" stroke-width="0.3">Discharge, cubic feet per second</text>
<text transform="translate(147.67,429.3) scale(0.989,1.0)" text-anchor="middle" style='font-family:"Liberation Mono",monospace;font-weight:bold;font-size:15.55px' fill="#000" stroke="#000" stroke-width="0.3" >Apr</text>
<text transform="translate(147.67,446.4) scale(0.989,1.0)" text-anchor="middle" style='font-family:"Liberation Mono",monospace;font-weight:bold;font-size:15.55px' fill="#000" stroke="#000" stroke-width="0.3" >10</text>
<text transform="translate(147.67,463.1) scale(0.989,1.0)" text-anchor="middle" style='font-family:"Liberation Mono",monospace;font-weight:bold;font-size:15.55px' fill="#000" stroke="#000" stroke-width="0.3" >2021</text>
<text transform="translate(251.67,429.3) scale(0.989,1.0)" text-anchor="middle" style='font-family:"Liberation Mono",monospace;font-weight:bold;font-size:15.55px' fill="#000" stroke="#000" stroke-width="0.3" >Apr</text>
<text transform="translate(251.67,446.4) scale(0.989,1.0)" text-anchor="middle" style='font-family:"Liberation Mono",monospace;font-weight:bold;font-size:15.55px' fill="#000" stroke="#000" stroke-width="0.3" >24</text>
<text transform="translate(251.67,463.1) scale(0.989,1.0)" text-anchor="middle" style='font-family:"Liberation Mono",monospace;font-weight:bold;font-size:15.55px' fill="#000" stroke="#000" stroke-width="0.3" >2021</text>
<text transform="translate(355.67,429.3) scale(0.989,1.0)" text-anchor="middle" style='font-family:"Liberation Mono",monospace;font-weight:bold;font-size:15.55px' fill="#000" stroke="#000" stroke-width="0.3" >May</text>
<text transform="translate(355.67,446.4) scale(0.989,1.0)" text-anchor="middle" style='font-family:"Liberation Mono",monospace;font-weight:bold;font-size:15.55px' fill="#000" stroke="#000" stroke-width="0.3" >08</text>
<text transform="translate(355.67,463.1) scale(0.989,1.0)" text-anchor="middle" style='font-family:"Liberation Mono",monospace;font-weight:bold;font-size:15.55px' fill="#000" stroke="#000" stroke-width="0.3" >2021</text>
<text transform="translate(458.33,429.3) scale(0.989,1.0)" text-anchor="middle" style='font-family:"Liberation Mono",monospace;font-weight:bold;font-size:15.55px' fill="#000" stroke="#000" stroke-width="0.3" >May</text>
<text transform="translate(458.33,446.4) scale(0.989,1.0)" text-anchor="middle" style='font-family:"Liberation Mono",monospace;font-weight:bold;font-size:15.55px' fill="#000" stroke="#000" stroke-width="0.3" >22</text>
<text transform="translate(458.33,463.1) scale(0.989,1.0)" text-anchor="middle" style='font-family:"Liberation Mono",monospace;font-weight:bold;font-size:15.55px' fill="#000" stroke="#000" stroke-width="0.3" >2021</text>
<text transform="translate(562.33,429.3) scale(0.989,1.0)" text-anchor="middle" style='font-family:"Liberation Mono",monospace;font-weight:bold;font-size:15.55px' fill="#000" stroke="#000" stroke-width="0.3" >Jun</text>
<text transform="translate(562.33,446.4) scale(0.989,1.0)" text-anchor="middle" style='font-family:"Liberation Mono",monospace;font-weight:bold;font-size:15.55px' fill="#000" stroke="#000" stroke-width="0.3" >05</text>
<text transform="translate(562.33,463.1) scale(0.989,1.0)" text-anchor="middle" style='font-family:"Liberation Mono",monospace;font-weight:bold;font-size:15.55px' fill="#000" stroke="#000" stroke-width="0.3" >2021</text>
<text transform="translate(666.33,429.3) scale(0.989,1.0)" text-anchor="middle" style='font-family:"Liberation Mono",monospace;font-weight:bold;font-size:15.55px' fill="#000" stroke="#000" stroke-width="0.3" >Jun</text>
<text transform="translate(666.33,446.4) scale(0.989,1.0)" text-anchor="middle" style='font-family:"Liberation Mono",monospace;font-weight:bold;font-size:15.55px' fill="#000" stroke="#000" stroke-width="0.3" >19</text>
<text transform="translate(666.33,463.1) scale(0.989,1.0)" text-anchor="middle" style='font-family:"Liberation Mono",monospace;font-weight:bold;font-size:15.55px' fill="#000" stroke="#000" stroke-width="0.3" >2021</text>
<use href="#t" x="84.50" y="501.55"/>
<text transform="translate(102.6,504.1) scale(0.989,1.0)" text-anchor="start" style='font-family:"Liberation Mono",monospace;font-weight:bold;font-size:15.55px' fill="#000" stroke="#000" stroke-width="0.3" >Median daily statistic (85 years)</text>
<line x1="71.9" x2="95.5" y1="519.3" y2="519.3" stroke="#0d7fd0" stroke-width="1.4"/>
<text transform="translate(102.6,525.2) scale(0.989,1.0)" text-anchor="start" style='font-family:"Liberation Mono",monospace;font-weight:bold;font-size:15.55px' fill="#000" stroke="#000" stroke-width="0.3" >Discharge</text>
<rect x="71.9" y="537.1" width="23.6" height="5.3" fill="#009c00"/>
<text transform="translate(102.6,546.2) scale(0.989,1.0)" text-anchor="start" style='font-family:"Liberation Mono",monospace;font-weight:bold;font-size:15.55px' fill="#000" stroke="#000" stroke-width="0.3" >Period of approved data</text>
<rect x="416.3" y="494.9" width="24.1" height="5.4" fill="#f340dc"/>
<text transform="translate(447.4,504.1) scale(0.989,1.0)" text-anchor="start" style='font-family:"Liberation Mono",monospace;font-weight:bold;font-size:15.55px' fill="#000" stroke="#000" stroke-width="0.3" >Period of provisional data</text>
<path d="M423.05,513.02H435.00V525.27H423.05ZM423.05,510.40h1.33V511.71h-1.33ZM435.00,510.40h-1.33V511.71h1.33ZM423.05,511.71h2.66V513.02h-2.66ZM435.00,511.71h-2.66V513.02h2.66ZM423.05,525.27h2.66V526.59h-2.66ZM435.00,525.27h-2.66V526.59h2.66ZM423.05,526.59h1.33V527.90h-1.33ZM435.00,526.59h-1.33V527.90h1.33Z" fill="#ff0000"/>
<text transform="translate(447.4,525.2) scale(0.989,1.0)" text-anchor="start" style='font-family:"Liberation Mono",monospace;font-weight:bold;font-size:15.55px' fill="#000" stroke="#000" stroke-width="0.3" >Measured discharge</text>
</g></svg></body></html>
